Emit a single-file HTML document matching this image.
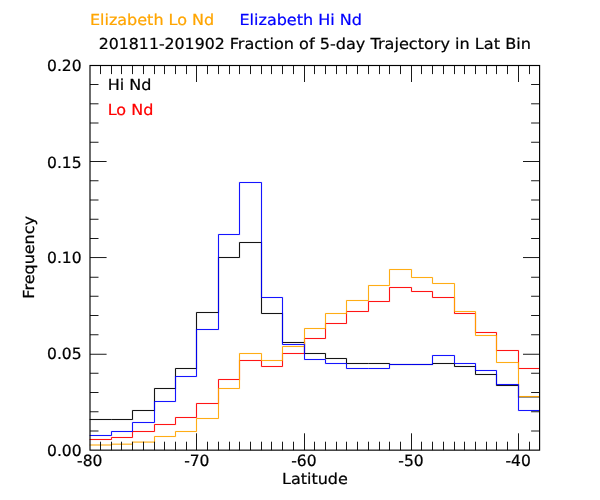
<!DOCTYPE html>
<html><head><meta charset="utf-8"><title>Fraction of 5-day Trajectory in Lat Bin</title>
<style>html,body{margin:0;padding:0;background:#fff}svg{display:block}text{font-family:"DejaVu Sans","Liberation Sans",sans-serif;font-size:16px;stroke-width:0.24px;text-rendering:geometricPrecision}</style></head><body>
<svg width="600" height="500" viewBox="0 0 600 500">
<rect width="600" height="500" fill="#fff"/>
<path d="M89.70,419.50 L111.50,419.50 L111.50,419.50 L132.50,419.50 L132.50,410.50 L154.50,410.50 L154.50,388.50 L175.50,388.50 L175.50,368.50 L196.50,368.50 L196.50,312.50 L218.50,312.50 L218.50,257.50 L239.50,257.50 L239.50,242.50 L261.50,242.50 L261.50,313.50 L282.50,313.50 L282.50,342.50 L304.50,342.50 L304.50,353.50 L325.50,353.50 L325.50,358.50 L346.50,358.50 L346.50,363.50 L368.50,363.50 L368.50,363.50 L389.50,363.50 L389.50,364.50 L411.50,364.50 L411.50,364.50 L432.50,364.50 L432.50,363.50 L454.50,363.50 L454.50,366.50 L475.50,366.50 L475.50,374.50 L496.50,374.50 L496.50,385.50 L518.50,385.50 L518.50,396.90 L539.60,396.90" fill="none" stroke="#000" stroke-width="1.7" stroke-opacity="0.16" stroke-linejoin="miter"/>
<path d="M89.70,419.50 L111.50,419.50 L111.50,419.50 L132.50,419.50 L132.50,410.50 L154.50,410.50 L154.50,388.50 L175.50,388.50 L175.50,368.50 L196.50,368.50 L196.50,312.50 L218.50,312.50 L218.50,257.50 L239.50,257.50 L239.50,242.50 L261.50,242.50 L261.50,313.50 L282.50,313.50 L282.50,342.50 L304.50,342.50 L304.50,353.50 L325.50,353.50 L325.50,358.50 L346.50,358.50 L346.50,363.50 L368.50,363.50 L368.50,363.50 L389.50,363.50 L389.50,364.50 L411.50,364.50 L411.50,364.50 L432.50,364.50 L432.50,363.50 L454.50,363.50 L454.50,366.50 L475.50,366.50 L475.50,374.50 L496.50,374.50 L496.50,385.50 L518.50,385.50 L518.50,396.90 L539.60,396.90" fill="none" stroke="#000" stroke-width="1" stroke-opacity="0.9" stroke-linejoin="miter"/>
<path d="M89.70,439.50 L111.50,439.50 L111.50,437.50 L132.50,437.50 L132.50,431.50 L154.50,431.50 L154.50,424.50 L175.50,424.50 L175.50,417.50 L196.50,417.50 L196.50,403.50 L218.50,403.50 L218.50,379.50 L239.50,379.50 L239.50,360.50 L261.50,360.50 L261.50,366.50 L282.50,366.50 L282.50,353.50 L304.50,353.50 L304.50,338.50 L325.50,338.50 L325.50,323.50 L346.50,323.50 L346.50,311.50 L368.50,311.50 L368.50,301.50 L389.50,301.50 L389.50,287.50 L411.50,287.50 L411.50,291.50 L432.50,291.50 L432.50,297.50 L454.50,297.50 L454.50,313.50 L475.50,313.50 L475.50,332.50 L496.50,332.50 L496.50,350.50 L518.50,350.50 L518.50,368.50 L539.60,368.50" fill="none" stroke="#f00" stroke-width="1.7" stroke-opacity="0.16" stroke-linejoin="miter"/>
<path d="M89.70,439.50 L111.50,439.50 L111.50,437.50 L132.50,437.50 L132.50,431.50 L154.50,431.50 L154.50,424.50 L175.50,424.50 L175.50,417.50 L196.50,417.50 L196.50,403.50 L218.50,403.50 L218.50,379.50 L239.50,379.50 L239.50,360.50 L261.50,360.50 L261.50,366.50 L282.50,366.50 L282.50,353.50 L304.50,353.50 L304.50,338.50 L325.50,338.50 L325.50,323.50 L346.50,323.50 L346.50,311.50 L368.50,311.50 L368.50,301.50 L389.50,301.50 L389.50,287.50 L411.50,287.50 L411.50,291.50 L432.50,291.50 L432.50,297.50 L454.50,297.50 L454.50,313.50 L475.50,313.50 L475.50,332.50 L496.50,332.50 L496.50,350.50 L518.50,350.50 L518.50,368.50 L539.60,368.50" fill="none" stroke="#f00" stroke-width="1" stroke-opacity="0.9" stroke-linejoin="miter"/>
<path d="M89.70,445.00 L111.50,445.00 L111.50,444.20 L132.50,444.20 L132.50,442.10 L154.50,442.10 L154.50,436.50 L175.50,436.50 L175.50,431.50 L196.50,431.50 L196.50,418.50 L218.50,418.50 L218.50,388.50 L239.50,388.50 L239.50,353.50 L261.50,353.50 L261.50,360.50 L282.50,360.50 L282.50,346.50 L304.50,346.50 L304.50,328.50 L325.50,328.50 L325.50,313.50 L346.50,313.50 L346.50,300.50 L368.50,300.50 L368.50,285.50 L389.50,285.50 L389.50,269.50 L411.50,269.50 L411.50,277.50 L432.50,277.50 L432.50,283.50 L454.50,283.50 L454.50,311.50 L475.50,311.50 L475.50,335.50 L496.50,335.50 L496.50,362.50 L518.50,362.50 L518.50,396.50 L539.60,396.50" fill="none" stroke="#ffa500" stroke-width="1.7" stroke-opacity="0.16" stroke-linejoin="miter"/>
<path d="M89.70,445.00 L111.50,445.00 L111.50,444.20 L132.50,444.20 L132.50,442.10 L154.50,442.10 L154.50,436.50 L175.50,436.50 L175.50,431.50 L196.50,431.50 L196.50,418.50 L218.50,418.50 L218.50,388.50 L239.50,388.50 L239.50,353.50 L261.50,353.50 L261.50,360.50 L282.50,360.50 L282.50,346.50 L304.50,346.50 L304.50,328.50 L325.50,328.50 L325.50,313.50 L346.50,313.50 L346.50,300.50 L368.50,300.50 L368.50,285.50 L389.50,285.50 L389.50,269.50 L411.50,269.50 L411.50,277.50 L432.50,277.50 L432.50,283.50 L454.50,283.50 L454.50,311.50 L475.50,311.50 L475.50,335.50 L496.50,335.50 L496.50,362.50 L518.50,362.50 L518.50,396.50 L539.60,396.50" fill="none" stroke="#ffa500" stroke-width="1" stroke-opacity="0.9" stroke-linejoin="miter"/>
<path d="M89.70,435.50 L111.50,435.50 L111.50,431.50 L132.50,431.50 L132.50,422.50 L154.50,422.50 L154.50,401.50 L175.50,401.50 L175.50,376.50 L196.50,376.50 L196.50,329.50 L218.50,329.50 L218.50,234.50 L239.50,234.50 L239.50,182.50 L261.50,182.50 L261.50,297.50 L282.50,297.50 L282.50,344.50 L304.50,344.50 L304.50,359.50 L325.50,359.50 L325.50,363.50 L346.50,363.50 L346.50,368.50 L368.50,368.50 L368.50,368.50 L389.50,368.50 L389.50,364.50 L411.50,364.50 L411.50,364.50 L432.50,364.50 L432.50,355.50 L454.50,355.50 L454.50,363.50 L475.50,363.50 L475.50,370.50 L496.50,370.50 L496.50,384.50 L518.50,384.50 L518.50,410.50 L539.60,410.50" fill="none" stroke="#00f" stroke-width="1.7" stroke-opacity="0.16" stroke-linejoin="miter"/>
<path d="M89.70,435.50 L111.50,435.50 L111.50,431.50 L132.50,431.50 L132.50,422.50 L154.50,422.50 L154.50,401.50 L175.50,401.50 L175.50,376.50 L196.50,376.50 L196.50,329.50 L218.50,329.50 L218.50,234.50 L239.50,234.50 L239.50,182.50 L261.50,182.50 L261.50,297.50 L282.50,297.50 L282.50,344.50 L304.50,344.50 L304.50,359.50 L325.50,359.50 L325.50,363.50 L346.50,363.50 L346.50,368.50 L368.50,368.50 L368.50,368.50 L389.50,368.50 L389.50,364.50 L411.50,364.50 L411.50,364.50 L432.50,364.50 L432.50,355.50 L454.50,355.50 L454.50,363.50 L475.50,363.50 L475.50,370.50 L496.50,370.50 L496.50,384.50 L518.50,384.50 L518.50,410.50 L539.60,410.50" fill="none" stroke="#00f" stroke-width="1" stroke-opacity="0.9" stroke-linejoin="miter"/>
<path d="M100.50,450.15V441.70M100.50,65.5V74.10M111.50,450.15V441.70M111.50,65.5V74.10M121.50,450.15V441.70M121.50,65.5V74.10M132.50,450.15V441.70M132.50,65.5V74.10M143.50,450.15V441.70M143.50,65.5V74.10M154.50,450.15V441.70M154.50,65.5V74.10M164.50,450.15V441.70M164.50,65.5V74.10M175.50,450.15V441.70M175.50,65.5V74.10M186.50,450.15V441.70M186.50,65.5V74.10M196.50,450.15V433.30M196.50,65.5V82.00M207.50,450.15V441.70M207.50,65.5V74.10M218.50,450.15V441.70M218.50,65.5V74.10M229.50,450.15V441.70M229.50,65.5V74.10M239.50,450.15V441.70M239.50,65.5V74.10M250.50,450.15V441.70M250.50,65.5V74.10M261.50,450.15V441.70M261.50,65.5V74.10M271.50,450.15V441.70M271.50,65.5V74.10M282.50,450.15V441.70M282.50,65.5V74.10M293.50,450.15V441.70M293.50,65.5V74.10M304.50,450.15V433.30M304.50,65.5V82.00M314.50,450.15V441.70M314.50,65.5V74.10M325.50,450.15V441.70M325.50,65.5V74.10M336.50,450.15V441.70M336.50,65.5V74.10M346.50,450.15V441.70M346.50,65.5V74.10M357.50,450.15V441.70M357.50,65.5V74.10M368.50,450.15V441.70M368.50,65.5V74.10M379.50,450.15V441.70M379.50,65.5V74.10M389.50,450.15V441.70M389.50,65.5V74.10M400.50,450.15V441.70M400.50,65.5V74.10M411.50,450.15V433.30M411.50,65.5V82.00M421.50,450.15V441.70M421.50,65.5V74.10M432.50,450.15V441.70M432.50,65.5V74.10M443.50,450.15V441.70M443.50,65.5V74.10M454.50,450.15V441.70M454.50,65.5V74.10M464.50,450.15V441.70M464.50,65.5V74.10M475.50,450.15V441.70M475.50,65.5V74.10M486.50,450.15V441.70M486.50,65.5V74.10M496.50,450.15V441.70M496.50,65.5V74.10M507.50,450.15V441.70M507.50,65.5V74.10M518.50,450.15V433.30M518.50,65.5V82.00M529.50,450.15V441.70M529.50,65.5V74.10M90.0,431.00H98.50M539.6,431.00H531.10M90.0,411.75H98.50M539.6,411.75H531.10M90.0,392.50H98.50M539.6,392.50H531.10M90.0,373.25H98.50M539.6,373.25H531.10M90.0,354.25H106.60M539.6,354.25H523.00M90.0,334.75H98.50M539.6,334.75H531.10M90.0,315.50H98.50M539.6,315.50H531.10M90.0,296.25H98.50M539.6,296.25H531.10M90.0,277.25H98.50M539.6,277.25H531.10M90.0,257.55H106.60M539.6,257.55H523.00M90.0,238.50H98.50M539.6,238.50H531.10M90.0,219.25H98.50M539.6,219.25H531.10M90.0,200.00H98.50M539.6,200.00H531.10M90.0,180.75H98.50M539.6,180.75H531.10M90.0,161.50H106.60M539.6,161.50H523.00M90.0,142.25H98.50M539.6,142.25H531.10M90.0,123.00H98.50M539.6,123.00H531.10M90.0,103.80H98.50M539.6,103.80H531.10M90.0,84.50H98.50M539.6,84.50H531.10" fill="none" stroke="#000" stroke-width="0.9"/>
<rect x="90.0" y="65.5" width="449.60" height="384.65" fill="none" stroke="#000" stroke-width="1.15"/>
<text transform="translate(89.70,466.25) scale(0.97,0.97)" text-anchor="middle" stroke="#000">-80</text>
<text transform="translate(196.80,466.25) scale(0.97,0.97)" text-anchor="middle" stroke="#000">-70</text>
<text transform="translate(303.90,466.25) scale(0.97,0.97)" text-anchor="middle" stroke="#000">-60</text>
<text transform="translate(411.00,466.25) scale(0.97,0.97)" text-anchor="middle" stroke="#000">-50</text>
<text transform="translate(518.10,466.25) scale(0.97,0.97)" text-anchor="middle" stroke="#000">-40</text>
<text transform="translate(81.60,455.60) scale(0.97,0.97)" text-anchor="end" stroke="#000">0.00</text>
<text transform="translate(81.60,359.30) scale(0.97,0.97)" text-anchor="end" stroke="#000">0.05</text>
<text transform="translate(81.60,263.20) scale(0.97,0.97)" text-anchor="end" stroke="#000">0.10</text>
<text transform="translate(81.60,167.50) scale(0.97,0.97)" text-anchor="end" stroke="#000">0.15</text>
<text transform="translate(81.60,71.40) scale(0.97,0.97)" text-anchor="end" stroke="#000">0.20</text>
<text transform="translate(314.90,483.70) scale(1.0,0.945)" text-anchor="middle" stroke="#000">Latitude</text>
<text transform="translate(33.80,257.30) rotate(-90) scale(1.0,0.945)" text-anchor="middle" stroke="#000">Frequency</text>
<text transform="translate(98.80,49.30) scale(0.984,0.945)" stroke="#000">201811-201902</text>
<text transform="translate(229.70,49.30) scale(1.0061,0.945)" stroke="#000">Fraction of 5-day Trajectory in Lat Bin</text>
<text transform="translate(89.90,25.00) scale(1.0,0.945)" fill="#ffa500" stroke="#ffa500">Elizabeth Lo Nd</text>
<text transform="translate(239.50,25.00) scale(1.0,0.945)" fill="#00f" stroke="#00f">Elizabeth Hi Nd</text>
<text transform="translate(107.70,90.00) scale(1.0,0.945)" stroke="#000">Hi Nd</text>
<text transform="translate(107.70,114.80) scale(1.0,0.945)" fill="#f00" stroke="#f00">Lo Nd</text>
</svg></body></html>
